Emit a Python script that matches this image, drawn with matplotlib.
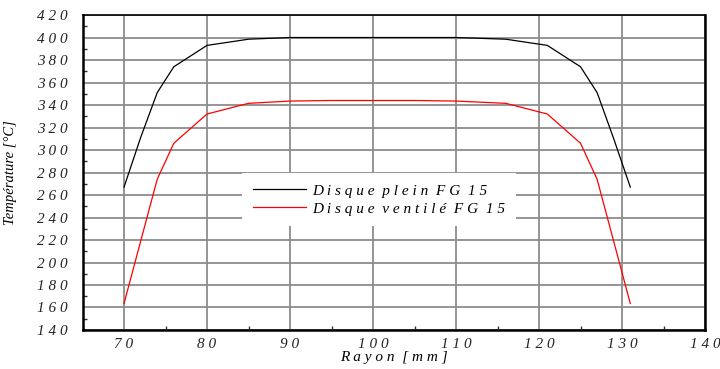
import numpy as np
import matplotlib.pyplot as plt
from matplotlib.ticker import MultipleLocator, FixedLocator

# Données
rayon_plein = [70, 72, 74, 76, 80, 85, 90, 95, 100, 105, 110, 116, 121, 125, 127, 129, 131]
temp_plein = [267, 311, 351, 374, 393, 398.5, 400, 400, 400, 400, 400, 398.5, 393, 374, 351, 310, 267]

rayon_ventile = [70, 74, 76, 80, 85, 90, 95, 100, 105, 110, 116, 121, 125, 127, 131]
temp_ventile = [163.5, 274, 306, 332, 341.5, 343.5, 344, 344, 344, 343.5, 341.5, 332, 306, 274, 163.5]

x_ticks = [70, 80, 90, 100, 110, 120, 130, 140]
y_ticks = list(range(140, 421, 20))


def spaced(*words):
    return "  ".join(" ".join(w) for w in words)


serif = ["Liberation Serif", "DejaVu Serif"]

fig = plt.figure(figsize=(7.2, 3.69), dpi=100)
ax = fig.add_axes([0.1146, 0.1057, 0.8646, 0.8536])

ax.plot(rayon_plein, temp_plein, color="black", lw=0.9, label=spaced("Disque", "plein", "FG", "15"))
ax.plot(rayon_ventile, temp_ventile, color="#ff0000", lw=0.9, label=spaced("Disque", "ventilé", "FG", "15"))

ax.set_xlim(65, 140)
ax.set_ylim(140, 420)
ax.xaxis.set_major_locator(FixedLocator(x_ticks))
ax.yaxis.set_major_locator(FixedLocator(y_ticks))
ax.xaxis.set_minor_locator(MultipleLocator(5))
ax.yaxis.set_minor_locator(MultipleLocator(10))
ax.set_xticklabels([spaced(str(v)) for v in x_ticks], family=serif, style="italic", fontsize=11)
ax.set_yticklabels([spaced(str(v)) for v in y_ticks], family=serif, style="italic", fontsize=11)
ax.tick_params(axis="y", which="major", length=0, pad=11, colors="#222222")
ax.tick_params(axis="x", which="major", length=0, pad=6, colors="#222222")
ax.tick_params(which="minor", direction="in", length=3, width=1, color="#333333")

ax.grid(True, which="major", color="#8c8c8c", lw=1.3)
ax.set_axisbelow(True)

for side in ["left", "right", "bottom"]:
    ax.spines[side].set_linewidth(1.8)
ax.spines["top"].set_linewidth(1.2)

ax.set_xlabel(spaced("Rayon", "[mm]"), family=serif, style="italic", fontsize=11, labelpad=0)
ax.set_ylabel("Température [°C]", family=serif, style="italic", fontsize=10.5, labelpad=14)

leg = ax.legend(loc="upper left", bbox_to_anchor=(0.2562, 0.498), borderaxespad=0,
                frameon=True, fancybox=False, framealpha=1, facecolor="white", edgecolor="none",
                handlelength=3.5, handletextpad=0.4, borderpad=0.7, labelspacing=0.3,
                prop={"family": serif, "style": "italic", "size": 11})
leg.get_frame().set_linewidth(0)

fig.savefig("out.png", dpi=100)
